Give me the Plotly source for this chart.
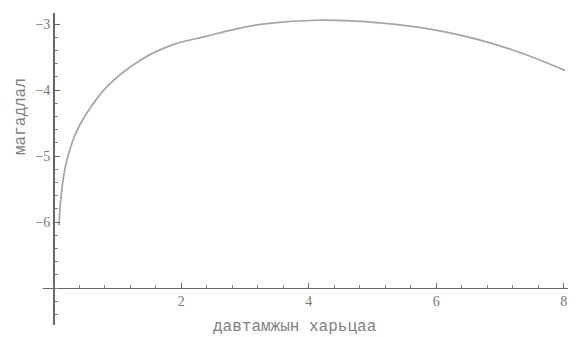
import plotly.graph_objects as go

# data
x_vals = [0.08, 0.12, 0.19, 0.30, 0.41, 0.55, 0.83, 1.35, 1.87, 2.40, 2.87, 3.34, 4.13, 5.11, 6.16, 7.20, 8.02]
y_vals = [-6.05, -5.55, -5.12, -4.76, -4.52, -4.30, -3.95, -3.55, -3.31, -3.18, -3.07, -2.99, -2.94, -2.98, -3.12, -3.39, -3.70]
x_ticks = [2, 4, 6, 8]
y_ticks = [-6, -5, -4, -3]
x_title = "давтамжын харьцаа"
y_title = "магадлал"

xr = [-0.17, 8.13]
yr = [-7.56, -2.83]
font = dict(family="Liberation Serif", size=14, color="#777777")
title_font = dict(family="Liberation Mono", size=16, color="#808080")

fig = go.Figure()
fig.add_trace(go.Scatter(x=x_vals, y=y_vals, mode="lines",
                         line=dict(color="#a4a4a4", width=1.7, shape="spline", smoothing=1.0),
                         hoverinfo="skip", showlegend=False))

fig.update_layout(
    width=568, height=329,
    margin=dict(l=35, r=4, t=5, b=12),
    paper_bgcolor="white", plot_bgcolor="white",
    font=font,
    xaxis=dict(range=xr, anchor="free", position=(-7 - yr[0]) / (yr[1] - yr[0]),
               showgrid=False, zeroline=False, showline=True, linecolor="#666666", linewidth=1,
               tickvals=x_ticks, ticks="inside", ticklen=5, tickcolor="#666666",
               ticklabeloverflow="allow",
               minor=dict(dtick=0.4, tick0=0, ticks="inside", ticklen=3, tickcolor="#888888"),
               tickfont=font),
    yaxis=dict(range=yr, anchor="free", position=(0 - xr[0]) / (xr[1] - xr[0]),
               showgrid=False, zeroline=False, showline=True, linecolor="#666666", linewidth=1.5,
               tickvals=y_ticks, ticks="inside", ticklen=5, tickcolor="#666666",
               ticklabeloverflow="allow",
               minor=dict(dtick=0.2, tick0=0, ticks="inside", ticklen=3, tickcolor="#888888"),
               tickfont=font),
    annotations=[
        dict(text=x_title, xref="paper", yref="paper", x=(295 - 43) / 529, y=(325 - 327) / 312,
             showarrow=False, font=title_font, xanchor="center", yanchor="middle"),
        dict(text=y_title, xref="paper", yref="paper", x=(21 - 43) / 529, y=(325 - 117) / 312,
             showarrow=False, font=title_font, textangle=-90, xanchor="center", yanchor="middle"),
    ],
)

fig.write_html("out.html")
